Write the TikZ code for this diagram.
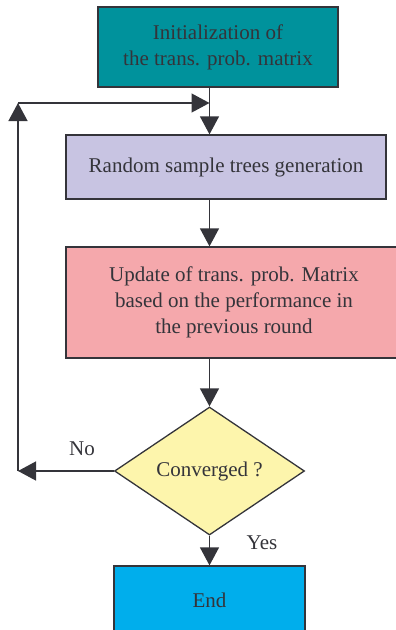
\documentclass[tikz,border=0pt]{standalone}
\usepackage{fontspec}
\setmainfont{Liberation Serif}
\usetikzlibrary{arrows.meta,shapes.geometric}
\definecolor{initteal}{RGB}{0,146,156}
\definecolor{randlav}{RGB}{200,196,226}
\definecolor{updpink}{RGB}{245,168,172}
\definecolor{convyellow}{RGB}{253,245,172}
\definecolor{endblue}{RGB}{0,174,236}
\definecolor{edgegrey}{RGB}{52,52,58}
\definecolor{txtgrey}{RGB}{52,52,58}
\begin{document}
\begin{tikzpicture}[x=1pt,y=-1pt,
    font=\fontsize{21}{26}\selectfont,
    every node/.style={text=txtgrey},
    box/.style={draw=edgegrey, line width=1.3pt, inner sep=0pt, align=center},
    flow/.style={draw=edgegrey, line width=1.3pt, -{Triangle[length=18pt,width=19pt]}}]

    \useasboundingbox (0,0) rectangle (396,630);
    \clip (0,0) rectangle (396,630);

    % boxes
    \node[box, fill=initteal, minimum width=240pt, minimum height=80pt] (init) at (218,47)
        {Initialization of\\the trans. prob. matrix};
    \node[box, fill=randlav, minimum width=320pt, minimum height=64pt] (rand) at (226,167)
        {Random sample trees generation};
    \node[box, fill=updpink, minimum width=336pt, minimum height=111pt] (upd) at (234,302.5)
        {Update of trans. prob. Matrix\\based on the performance in\\the previous round};
    \node[box, diamond, aspect=1.48, fill=convyellow, minimum width=190pt, minimum height=128pt] (conv) at (209.5,471)
        {Converged ?};
    \node[box, fill=endblue, minimum width=191pt, minimum height=68pt] (end) at (209.5,600) {End};

    % labels
    \node (no) at (82,449) {No};
    \node (yes) at (262,543) {Yes};

    % main flow
    \draw[flow] (init.south -| conv.north) -- (rand.north -| conv.north);
    \draw[flow] (rand.south -| conv.north) -- (upd.north -| conv.north);
    \draw[flow] (upd.south -| conv.north) -- (conv.north);
    \draw[flow] (conv.south) -- (end.north);

    % feedback loop
    \coordinate (loopbot) at (18,471);
    \coordinate (looptop) at (18,103);
    \draw[flow] (conv.west) -- (loopbot);
    \draw[flow] (loopbot) -- (looptop);
    \draw[flow] (looptop) -- (looptop -| conv.north);
\end{tikzpicture}
\end{document}
